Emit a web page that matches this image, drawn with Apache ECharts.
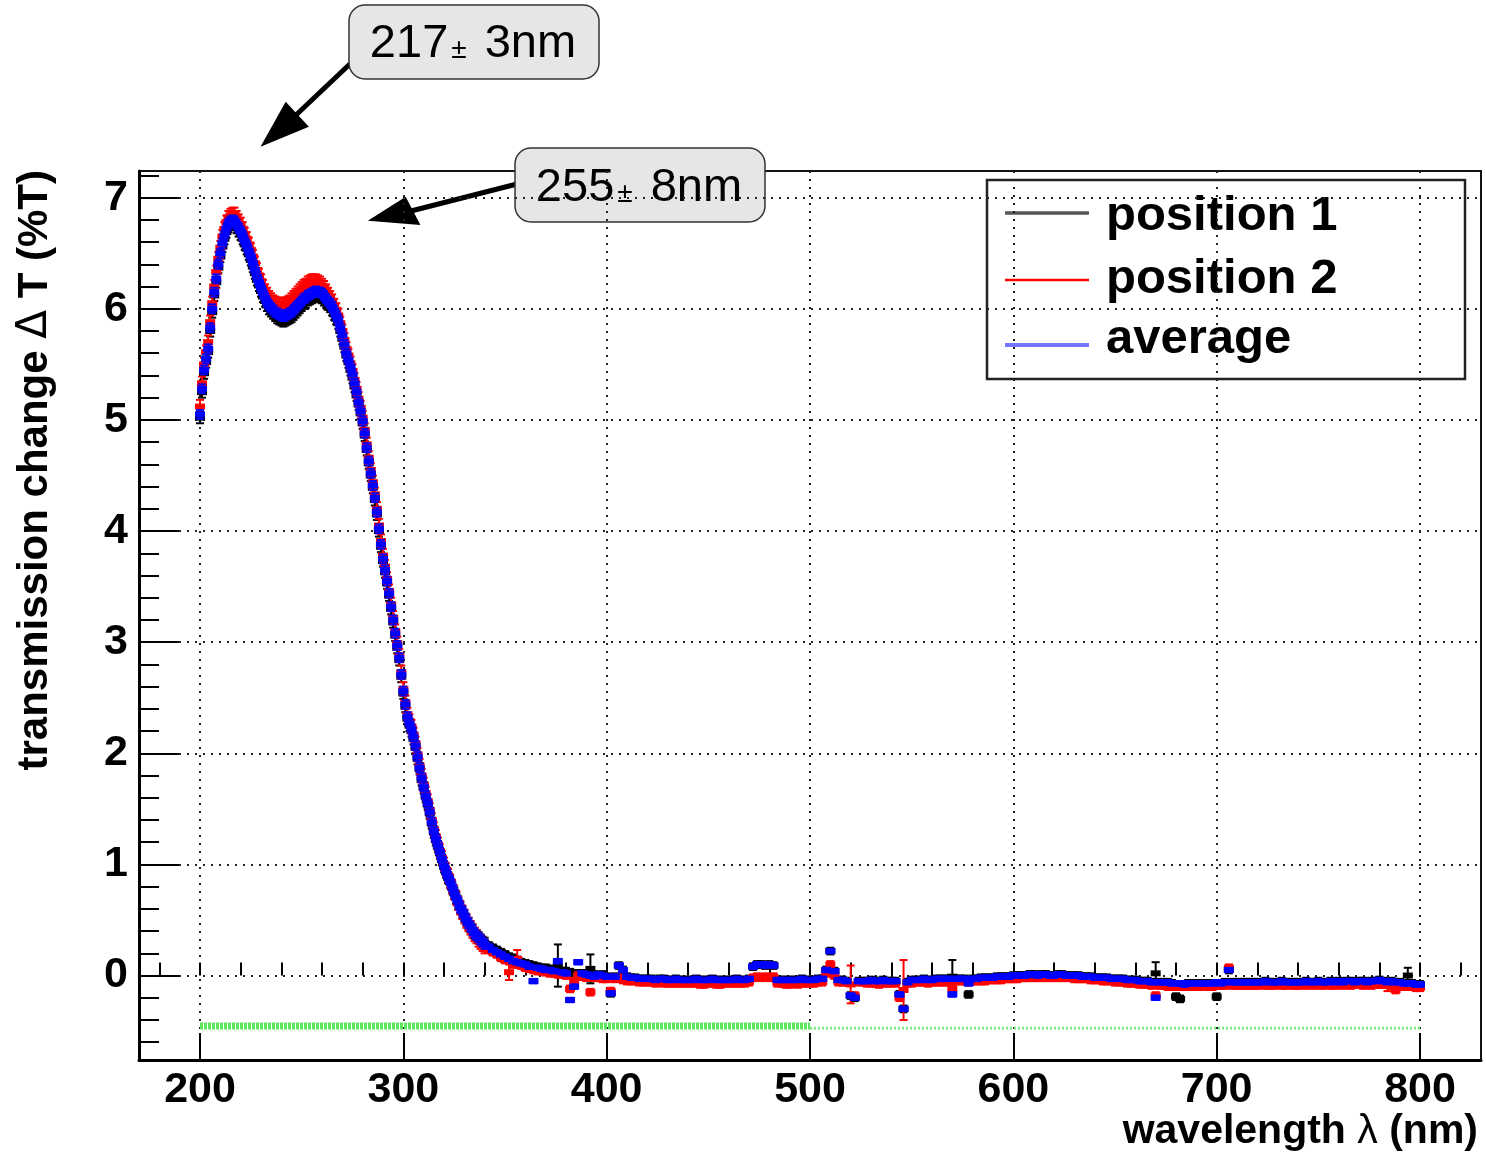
<!DOCTYPE html>
<html>
<head>
<meta charset="utf-8">
<script src="https://cdn.jsdelivr.net/npm/echarts@6/dist/echarts.min.js"></script>
<style>
  html, body { margin: 0; padding: 0; background: #ffffff; }
  #chart { width: 1486px; height: 1156px; }
</style>
</head>
<body>
<div id="chart"></div>
<script>
// Main wavelength grid: 200 nm to 800 nm in 2 nm steps
const wlStart = 200;
const wlStep = 2;
// Extra readings at odd wavelengths across the peaks and the steep edge: 201 nm to 339 nm
const oddStart = 201;

// Transmission change (%T), position 1
const position1 = [
  5.02, 5.42, 5.61, 5.97, 6.24, 6.47, 6.63, 6.74, 6.77, 6.73,
  6.67, 6.58, 6.49, 6.38, 6.26, 6.16, 6.07, 6.00, 5.96, 5.92,
  5.90, 5.90, 5.92, 5.95, 5.99, 6.03, 6.06, 6.09, 6.11, 6.11,
  6.10, 6.06, 6.02, 5.95, 5.87, 5.73, 5.58, 5.45, 5.30, 5.14,
  4.97, 4.73, 4.50, 4.28, 4.00, 3.73, 3.53, 3.30, 3.06, 2.84,
  2.54, 2.31, 2.20, 2.05, 1.86, 1.69, 1.54, 1.37, 1.22, 1.10,
  0.98, 0.88, 0.79, 0.70, 0.61, 0.54, 0.47, 0.41, 0.36, 0.32,
  0.29, 0.27, 0.25, 0.23, 0.21, 0.19, 0.17, 0.16, 0.14, 0.12,
  0.11, 0.10, 0.09, 0.08, 0.07, 0.07, 0.06, 0.05, 0.09, 0.04,
  0.04, 0.03, 0.02, 0.02, 0.02, 0.01, 0.06, 0.01, 0.00, 0.01,
  -0.01, -0.16, -0.01, 0.09, 0.05, -0.01, -0.02, -0.02, -0.03, -0.03,
  -0.03, -0.03, -0.04, -0.03, -0.03, -0.04, -0.04, -0.03, -0.04, -0.04,
  -0.04, -0.04, -0.03, -0.04, -0.04, -0.04, -0.03, -0.04, -0.04, -0.04,
  -0.04, -0.04, -0.03, -0.04, -0.04, -0.03, 0.08, 0.10, 0.10, 0.09,
  0.10, 0.09, -0.04, -0.04, -0.04, -0.04, -0.04, -0.04, -0.03, -0.04,
  -0.04, -0.04, -0.03, -0.03, 0.05, 0.22, 0.04, -0.04, -0.04, -0.05,
  -0.18, -0.20, -0.05, -0.05, -0.05, -0.04, -0.05, -0.05, -0.04, -0.05,
  -0.05, -0.05, -0.17, -0.30, -0.06, -0.04, -0.04, -0.04, -0.03, -0.04,
  -0.04, -0.03, -0.03, -0.03, -0.03, -0.01, -0.03, -0.03, -0.03, -0.17,
  -0.03, -0.03, -0.02, -0.02, -0.02, -0.02, -0.01, -0.01, -0.01, -0.01,
  0.00, 0.00, 0.00, 0.00, 0.01, 0.01, 0.00, 0.01, 0.01, 0.00,
  0.00, 0.01, 0.01, 0.00, 0.00, 0.00, 0.00, -0.01, -0.01, -0.01,
  -0.02, -0.02, -0.02, -0.02, -0.03, -0.03, -0.03, -0.03, -0.04, -0.04,
  -0.04, -0.05, -0.05, -0.05, -0.06, 0.02, -0.06, -0.06, -0.06, -0.07,
  -0.19, -0.21, -0.08, -0.07, -0.07, -0.07, -0.07, -0.07, -0.07, -0.07,
  -0.19, -0.07, -0.06, 0.05, -0.06, -0.06, -0.06, -0.06, -0.06, -0.06,
  -0.06, -0.06, -0.05, -0.06, -0.06, -0.06, -0.05, -0.06, -0.06, -0.06,
  -0.06, -0.06, -0.05, -0.06, -0.06, -0.05, -0.06, -0.06, -0.05, -0.06,
  -0.05, -0.06, -0.05, -0.05, -0.06, -0.05, -0.05, -0.06, -0.05, -0.05,
  -0.04, -0.05, -0.06, -0.05, -0.06, -0.06, -0.07, 0.00, -0.07, -0.08,
  -0.08
];
const position1Odd = [
  5.25, 5.52, 5.80, 6.12, 6.37, 6.56, 6.69, 6.76, 6.76, 6.70,
  6.63, 6.54, 6.44, 6.32, 6.21, 6.11, 6.03, 5.98, 5.94, 5.91,
  5.89, 5.91, 5.93, 5.97, 6.01, 6.05, 6.08, 6.10, 6.12, 6.11,
  6.08, 6.04, 5.99, 5.91, 5.80, 5.66, 5.52, 5.38, 5.22, 5.06,
  4.86, 4.61, 4.39, 4.15, 3.86, 3.63, 3.42, 3.18, 2.95, 2.69,
  2.42, 2.25, 2.13, 1.95, 1.76, 1.61, 1.46, 1.29, 1.16, 1.04,
  0.93, 0.84, 0.74, 0.65, 0.57, 0.50, 0.44, 0.38, 0.34, 0.30
];

// Transmission change (%T), position 2
const position2 = [
  5.12, 5.50, 5.70, 6.05, 6.33, 6.55, 6.72, 6.82, 6.85, 6.82,
  6.76, 6.67, 6.58, 6.47, 6.35, 6.25, 6.16, 6.10, 6.06, 6.04,
  6.04, 6.04, 6.06, 6.10, 6.14, 6.18, 6.21, 6.24, 6.25, 6.24,
  6.21, 6.16, 6.10, 6.03, 5.94, 5.80, 5.64, 5.51, 5.36, 5.19,
  5.02, 4.78, 4.55, 4.33, 4.05, 3.78, 3.57, 3.34, 3.10, 2.88,
  2.58, 2.35, 2.24, 2.09, 1.89, 1.72, 1.57, 1.40, 1.25, 1.12,
  1.00, 0.90, 0.80, 0.70, 0.61, 0.53, 0.46, 0.40, 0.35, 0.30,
  0.26, 0.24, 0.21, 0.19, 0.16, 0.14, 0.03, 0.10, 0.15, 0.09,
  0.07, 0.06, 0.05, 0.04, 0.04, 0.03, 0.02, 0.02, 0.01, 0.01,
  0.00, -0.12, -0.05, 0.00, -0.01, -0.02, -0.15, -0.02, -0.02, -0.03,
  -0.03, -0.14, -0.03, -0.02, -0.04, -0.05, -0.05, -0.05, -0.06, -0.06,
  -0.06, -0.06, -0.07, -0.06, -0.07, -0.07, -0.07, -0.07, -0.07, -0.07,
  -0.07, -0.07, -0.07, -0.08, -0.08, -0.07, -0.07, -0.08, -0.08, -0.07,
  -0.07, -0.07, -0.07, -0.07, -0.07, -0.06, -0.02, -0.01, -0.02, -0.01,
  -0.02, -0.01, -0.07, -0.07, -0.08, -0.08, -0.07, -0.08, -0.07, -0.07,
  -0.07, -0.07, -0.06, -0.06, 0.02, 0.10, 0.00, -0.06, -0.06, -0.06,
  -0.08, -0.18, -0.06, -0.06, -0.07, -0.07, -0.07, -0.08, -0.07, -0.07,
  -0.07, -0.07, -0.20, -0.13, -0.07, -0.07, -0.06, -0.06, -0.06, -0.07,
  -0.06, -0.06, -0.06, -0.06, -0.06, -0.12, -0.05, -0.05, -0.05, -0.06,
  -0.05, -0.05, -0.05, -0.05, -0.04, -0.04, -0.04, -0.04, -0.03, -0.03,
  -0.03, -0.03, -0.02, -0.02, -0.02, -0.02, -0.02, -0.02, -0.02, -0.02,
  -0.02, -0.02, -0.02, -0.02, -0.02, -0.03, -0.03, -0.03, -0.03, -0.04,
  -0.04, -0.04, -0.05, -0.05, -0.05, -0.06, -0.06, -0.06, -0.07, -0.07,
  -0.07, -0.08, -0.08, -0.08, -0.09, -0.18, -0.09, -0.09, -0.10, -0.10,
  -0.10, -0.10, -0.10, -0.10, -0.10, -0.10, -0.10, -0.09, -0.10, -0.10,
  -0.09, -0.09, -0.09, 0.07, -0.09, -0.09, -0.09, -0.09, -0.09, -0.09,
  -0.09, -0.08, -0.09, -0.09, -0.09, -0.08, -0.09, -0.09, -0.08, -0.09,
  -0.09, -0.08, -0.09, -0.08, -0.09, -0.08, -0.09, -0.08, -0.09, -0.09,
  -0.08, -0.09, -0.08, -0.09, -0.08, -0.08, -0.09, -0.08, -0.09, -0.08,
  -0.08, -0.08, -0.09, -0.09, -0.13, -0.10, -0.10, -0.10, -0.10, -0.11,
  -0.11
];
const position2Odd = [
  5.33, 5.61, 5.88, 6.20, 6.45, 6.65, 6.78, 6.84, 6.85, 6.79,
  6.72, 6.63, 6.53, 6.41, 6.30, 6.20, 6.13, 6.08, 6.05, 6.04,
  6.03, 6.05, 6.08, 6.12, 6.16, 6.20, 6.23, 6.25, 6.25, 6.23,
  6.19, 6.13, 6.07, 5.99, 5.87, 5.72, 5.58, 5.44, 5.28, 5.11,
  4.91, 4.66, 4.44, 4.20, 3.91, 3.68, 3.46, 3.22, 2.99, 2.73,
  2.46, 2.29, 2.17, 1.99, 1.80, 1.64, 1.49, 1.32, 1.18, 1.06,
  0.95, 0.85, 0.75, 0.65, 0.57, 0.49, 0.43, 0.37, 0.32, 0.28
];

// Transmission change (%T), average of both positions
const average = [
  5.05, 5.45, 5.64, 6.00, 6.27, 6.50, 6.66, 6.77, 6.80, 6.76,
  6.70, 6.61, 6.52, 6.41, 6.29, 6.19, 6.10, 6.03, 5.99, 5.96,
  5.94, 5.94, 5.96, 5.99, 6.03, 6.07, 6.10, 6.13, 6.15, 6.15,
  6.14, 6.09, 6.05, 5.98, 5.90, 5.76, 5.60, 5.48, 5.33, 5.16,
  4.99, 4.75, 4.52, 4.30, 4.02, 3.75, 3.55, 3.32, 3.08, 2.86,
  2.56, 2.33, 2.22, 2.07, 1.87, 1.70, 1.55, 1.38, 1.23, 1.11,
  0.99, 0.89, 0.80, 0.70, 0.61, 0.54, 0.47, 0.41, 0.36, 0.32,
  0.28, 0.26, 0.23, 0.21, 0.19, 0.17, 0.15, 0.13, 0.12, 0.11,
  0.10, 0.08, -0.05, 0.07, 0.06, 0.05, 0.05, 0.04, 0.13, 0.03,
  0.02, -0.22, -0.10, 0.12, 0.02, 0.01, 0.00, -0.01, 0.01, 0.00,
  -0.01, -0.16, -0.01, 0.09, 0.05, -0.01, -0.02, -0.02, -0.03, -0.03,
  -0.03, -0.03, -0.04, -0.03, -0.03, -0.04, -0.04, -0.03, -0.04, -0.04,
  -0.04, -0.04, -0.03, -0.04, -0.04, -0.04, -0.03, -0.04, -0.04, -0.04,
  -0.04, -0.04, -0.03, -0.04, -0.04, -0.03, 0.08, 0.10, 0.10, 0.09,
  0.10, 0.09, -0.04, -0.04, -0.04, -0.04, -0.04, -0.04, -0.03, -0.04,
  -0.04, -0.04, -0.03, -0.03, 0.05, 0.22, 0.04, -0.04, -0.04, -0.05,
  -0.18, -0.20, -0.05, -0.05, -0.05, -0.04, -0.05, -0.05, -0.04, -0.05,
  -0.05, -0.05, -0.17, -0.30, -0.06, -0.04, -0.04, -0.04, -0.03, -0.04,
  -0.04, -0.03, -0.03, -0.03, -0.03, -0.17, -0.03, -0.03, -0.03, -0.07,
  -0.03, -0.03, -0.02, -0.02, -0.02, -0.02, -0.01, -0.01, -0.01, -0.01,
  0.00, 0.00, 0.00, 0.00, 0.01, 0.01, 0.00, 0.01, 0.01, 0.00,
  0.00, 0.01, 0.01, 0.00, 0.00, 0.00, 0.00, -0.01, -0.01, -0.01,
  -0.02, -0.02, -0.02, -0.02, -0.03, -0.03, -0.03, -0.03, -0.04, -0.04,
  -0.04, -0.05, -0.05, -0.05, -0.06, -0.20, -0.06, -0.06, -0.06, -0.07,
  -0.07, -0.07, -0.08, -0.07, -0.07, -0.07, -0.07, -0.07, -0.07, -0.07,
  -0.06, -0.07, -0.06, 0.05, -0.06, -0.06, -0.06, -0.06, -0.06, -0.06,
  -0.06, -0.06, -0.05, -0.06, -0.06, -0.06, -0.05, -0.06, -0.06, -0.06,
  -0.06, -0.06, -0.05, -0.06, -0.06, -0.05, -0.06, -0.06, -0.05, -0.06,
  -0.05, -0.06, -0.05, -0.05, -0.06, -0.05, -0.05, -0.06, -0.05, -0.05,
  -0.04, -0.05, -0.06, -0.05, -0.06, -0.06, -0.07, -0.07, -0.07, -0.08,
  -0.08
];
const averageOdd = [
  5.28, 5.55, 5.83, 6.15, 6.40, 6.59, 6.72, 6.79, 6.79, 6.73,
  6.66, 6.57, 6.47, 6.35, 6.24, 6.14, 6.06, 6.01, 5.97, 5.95,
  5.93, 5.95, 5.97, 6.01, 6.05, 6.09, 6.12, 6.14, 6.16, 6.15,
  6.12, 6.07, 6.02, 5.94, 5.83, 5.68, 5.54, 5.41, 5.25, 5.08,
  4.88, 4.63, 4.41, 4.17, 3.88, 3.65, 3.44, 3.20, 2.97, 2.71,
  2.44, 2.27, 2.15, 1.97, 1.78, 1.62, 1.47, 1.30, 1.17, 1.05,
  0.94, 0.85, 0.75, 0.66, 0.58, 0.50, 0.44, 0.38, 0.34, 0.30
];

// Uncertainties: typical value per wavelength range [from, to, err],
// and individual points with larger bars [wavelength, err]
const position1ErrRanges = [[200, 341, 0.05], [342, 800, 0.03]];
const position1ErrPoints = [[376, 0.19], [392, 0.13], [570, 0.15], [670, 0.10], [794, 0.07]];
const position2ErrRanges = [[200, 341, 0.06], [342, 800, 0.03]];
const position2ErrPoints = [[352, 0.07], [356, 0.08], [520, 0.17], [546, 0.27], [784, 0.05]];
const averageErrRanges = [[200, 341, 0.04], [342, 800, 0.02]];
const averageErrPoints = [];

// Green reference band below the spectra
const bandFrom = [200, 500];
const bandTo = [500, 800];
const bandLevel = [-0.455, -0.474];

// Axis ticks
const xTicks = [200, 300, 400, 500, 600, 700, 800];
const yTicks = [0, 1, 2, 3, 4, 5, 6, 7];
const xMinorTicks = [];
for (let v = 180; v <= 820; v += 20) xMinorTicks.push(v);
const yMinorTicks = [];
for (let k = -3; k <= 36; k++) yMinorTicks.push(Math.round(k * 20) / 100);

function errorAt(wl, ranges, points) {
  let e = 0;
  ranges.forEach(r => { if (wl >= r[0] && wl <= r[1]) e = r[2]; });
  points.forEach(p => { if (p[0] === wl) e = p[1]; });
  return e;
}

// [wavelength, value, uncertainty] rows from the main grid and the odd-wavelength readings
function buildRows(values, oddValues, ranges, points) {
  const rows = [];
  values.forEach((v, i) => {
    const wl = wlStart + i * wlStep;
    rows.push([wl, v, errorAt(wl, ranges, points)]);
  });
  oddValues.forEach((v, i) => {
    const wl = oddStart + i * wlStep;
    rows.push([wl, v, errorAt(wl, ranges, points)]);
  });
  rows.sort((a, b) => a[0] - b[0]);
  return rows;
}

function errorBarSeries(name, rows, color) {
  return {
    type: 'custom',
    name: name,
    xAxisIndex: 0,
    yAxisIndex: 0,
    data: rows,
    encode: { x: 0, y: 1 },
    animation: false,
    silent: true,
    renderItem: function (params, api) {
      const x = api.value(0), y = api.value(1), e = api.value(2);
      const c = api.coord([x, y]);
      const t = api.coord([x, y + e]);
      const b = api.coord([x, y - e]);
      const cap = 4;
      return {
        type: 'group',
        children: [
          { type: 'line', shape: { x1: c[0], y1: t[1], x2: c[0], y2: b[1] }, style: { stroke: color, lineWidth: 2 } },
          { type: 'line', shape: { x1: c[0] - cap, y1: t[1], x2: c[0] + cap, y2: t[1] }, style: { stroke: color, lineWidth: 2 } },
          { type: 'line', shape: { x1: c[0] - cap, y1: b[1], x2: c[0] + cap, y2: b[1] }, style: { stroke: color, lineWidth: 2 } },
          { type: 'rect', shape: { x: c[0] - 5, y: c[1] - 3, width: 10, height: 6 }, style: { fill: color } }
        ]
      };
    }
  };
}

const rows1 = buildRows(position1, position1Odd, position1ErrRanges, position1ErrPoints);
const rows2 = buildRows(position2, position2Odd, position2ErrRanges, position2ErrPoints);
const rowsAvg = buildRows(average, averageOdd, averageErrRanges, averageErrPoints);

const FONT = '"Liberation Sans", Arial, Helvetica, sans-serif';
const tickLabel = { fontSize: 43, fontWeight: 'bold', color: '#000', fontFamily: FONT };
const gridDots = { color: '#222', width: 2, type: [2, 6] };

const chart = echarts.init(document.getElementById('chart'), null, { renderer: 'canvas' });

const option = {
  backgroundColor: '#ffffff',
  animation: false,
  grid: {
    left: 139, top: 171, width: 1342, height: 889,
    show: true, borderColor: '#111', borderWidth: 2, backgroundColor: 'transparent'
  },
  xAxis: [
    {
      type: 'value', min: 170, max: 830, position: 'bottom',
      axisLine: { show: true, onZero: false, lineStyle: { color: '#000', width: 3 } },
      axisTick: { show: true, inside: true, length: 27, customValues: xTicks, lineStyle: { color: '#000', width: 2 } },
      minorTick: { show: false },
      axisLabel: Object.assign({ customValues: xTicks, margin: 9 }, tickLabel),
      splitLine: { show: true, lineStyle: gridDots }
    },
    {
      type: 'value', min: 170, max: 830, position: 'bottom',
      axisLine: { show: false },
      axisTick: { show: true, inside: true, length: 13, customValues: xMinorTicks, lineStyle: { color: '#000', width: 2 } },
      axisLabel: { show: false },
      splitLine: { show: false }
    }
  ],
  yAxis: [
    {
      type: 'value', min: -0.76, max: 7.24, position: 'left',
      axisLine: { show: true, onZero: false, lineStyle: { color: '#000', width: 3 } },
      axisTick: { show: true, inside: true, length: 40, customValues: yTicks, lineStyle: { color: '#000', width: 2 } },
      minorTick: { show: false },
      axisLabel: Object.assign({ customValues: yTicks, margin: 11 }, tickLabel),
      splitLine: { show: true, lineStyle: gridDots }
    },
    {
      type: 'value', min: -0.76, max: 7.24, position: 'left',
      axisLine: { show: false },
      axisTick: { show: true, inside: true, length: 20, customValues: yMinorTicks, lineStyle: { color: '#000', width: 2 } },
      axisLabel: { show: false },
      splitLine: { show: false }
    }
  ],
  series: [
    {
      type: 'line', name: 'band-a', xAxisIndex: 0, yAxisIndex: 0, symbol: 'none', silent: true,
      data: [[bandFrom[0], bandLevel[0]], [bandTo[0], bandLevel[0]]],
      lineStyle: { color: '#5fe65f', width: 7, type: [3, 1] }
    },
    {
      type: 'line', name: 'band-b', xAxisIndex: 0, yAxisIndex: 0, symbol: 'none', silent: true,
      data: [[bandFrom[1], bandLevel[1]], [bandTo[1], bandLevel[1]]],
      lineStyle: { color: '#7ded7d', width: 3, type: [2, 2] }
    },
    errorBarSeries('position 1', rows1, '#000000'),
    errorBarSeries('position 2', rows2, '#ff0000'),
    errorBarSeries('average', rowsAvg, '#0000ff')
  ],
  graphic: [
    // axis titles
    {
      type: 'text', x: 1478, y: 1132, silent: true,
      style: {
        text: '{b|wavelength }{g|λ}{b| (nm)}',
        align: 'right', verticalAlign: 'middle',
        rich: {
          b: { fontSize: 41, fontWeight: 'bold', fontFamily: FONT, fill: '#000' },
          g: { fontSize: 41, fontWeight: 'normal', fontFamily: FONT, fill: '#000' }
        }
      }
    },
    {
      type: 'text', x: 35, y: 170, rotation: Math.PI / 2, silent: true,
      style: {
        text: '{b|transmission change }{g|Δ}{b| T (%T)}',
        align: 'right', verticalAlign: 'middle',
        rich: {
          b: { fontSize: 42, fontWeight: 'bold', fontFamily: FONT, fill: '#000' },
          g: { fontSize: 42, fontWeight: 'normal', fontFamily: '"DejaVu Sans", sans-serif', fill: '#000' }
        }
      }
    },
    // legend
    {
      type: 'rect', silent: true,
      shape: { x: 987, y: 180, width: 478, height: 199 },
      style: { fill: '#ffffff', stroke: '#222', lineWidth: 2.5 }
    },
    { type: 'line', silent: true, shape: { x1: 1005, y1: 213, x2: 1089, y2: 213 }, style: { stroke: '#555555', lineWidth: 3.5 } },
    { type: 'line', silent: true, shape: { x1: 1005, y1: 280, x2: 1089, y2: 280 }, style: { stroke: '#ff0000', lineWidth: 2.5 } },
    { type: 'line', silent: true, shape: { x1: 1005, y1: 345, x2: 1089, y2: 345 }, style: { stroke: '#7474ff', lineWidth: 4 } },
    {
      type: 'text', x: 1106, y: 216, silent: true,
      style: { text: 'position 1', fontSize: 49, fontWeight: 'bold', fontFamily: FONT, fill: '#000', align: 'left', verticalAlign: 'middle' }
    },
    {
      type: 'text', x: 1106, y: 279, silent: true,
      style: { text: 'position 2', fontSize: 49, fontWeight: 'bold', fontFamily: FONT, fill: '#000', align: 'left', verticalAlign: 'middle' }
    },
    {
      type: 'text', x: 1106, y: 339, silent: true,
      style: { text: 'average', fontSize: 49, fontWeight: 'bold', fontFamily: FONT, fill: '#000', align: 'left', verticalAlign: 'middle' }
    },
    // peak annotations: arrows
    { type: 'line', silent: true, shape: { x1: 352, y1: 62, x2: 296, y2: 115 }, style: { stroke: '#000', lineWidth: 5 } },
    { type: 'polygon', silent: true, shape: { points: [[260.5, 146.7], [285.7, 101.7], [308.9, 126.7]] }, style: { fill: '#000' } },
    { type: 'line', silent: true, shape: { x1: 517, y1: 184, x2: 411, y2: 211 }, style: { stroke: '#000', lineWidth: 5 } },
    { type: 'polygon', silent: true, shape: { points: [[367.8, 220.7], [405.7, 196.7], [420.4, 225]] }, style: { fill: '#000' } },
    // peak annotations: labels
    {
      type: 'rect', silent: true,
      shape: { x: 349, y: 5, width: 250, height: 74, r: 16 },
      style: { fill: '#e6e6e6', stroke: '#333', lineWidth: 1.5 }
    },
    {
      type: 'text', x: 473, y: 44, silent: true,
      style: {
        text: '{n|217}{s|±}{n| 3nm}', align: 'center', verticalAlign: 'middle',
        rich: {
          n: { fontSize: 47, fontFamily: FONT, fill: '#000' },
          s: { fontSize: 28, fontFamily: FONT, fill: '#000', verticalAlign: 'bottom', padding: [0, 5, 3, 3] }
        }
      }
    },
    {
      type: 'rect', silent: true,
      shape: { x: 515, y: 148, width: 250, height: 74, r: 16 },
      style: { fill: '#e6e6e6', stroke: '#333', lineWidth: 1.5 }
    },
    {
      type: 'text', x: 639, y: 188, silent: true,
      style: {
        text: '{n|255}{s|±}{n| 8nm}', align: 'center', verticalAlign: 'middle',
        rich: {
          n: { fontSize: 47, fontFamily: FONT, fill: '#000' },
          s: { fontSize: 28, fontFamily: FONT, fill: '#000', verticalAlign: 'bottom', padding: [0, 5, 3, 3] }
        }
      }
    }
  ]
};

chart.setOption(option);
</script>
</body>
</html>
